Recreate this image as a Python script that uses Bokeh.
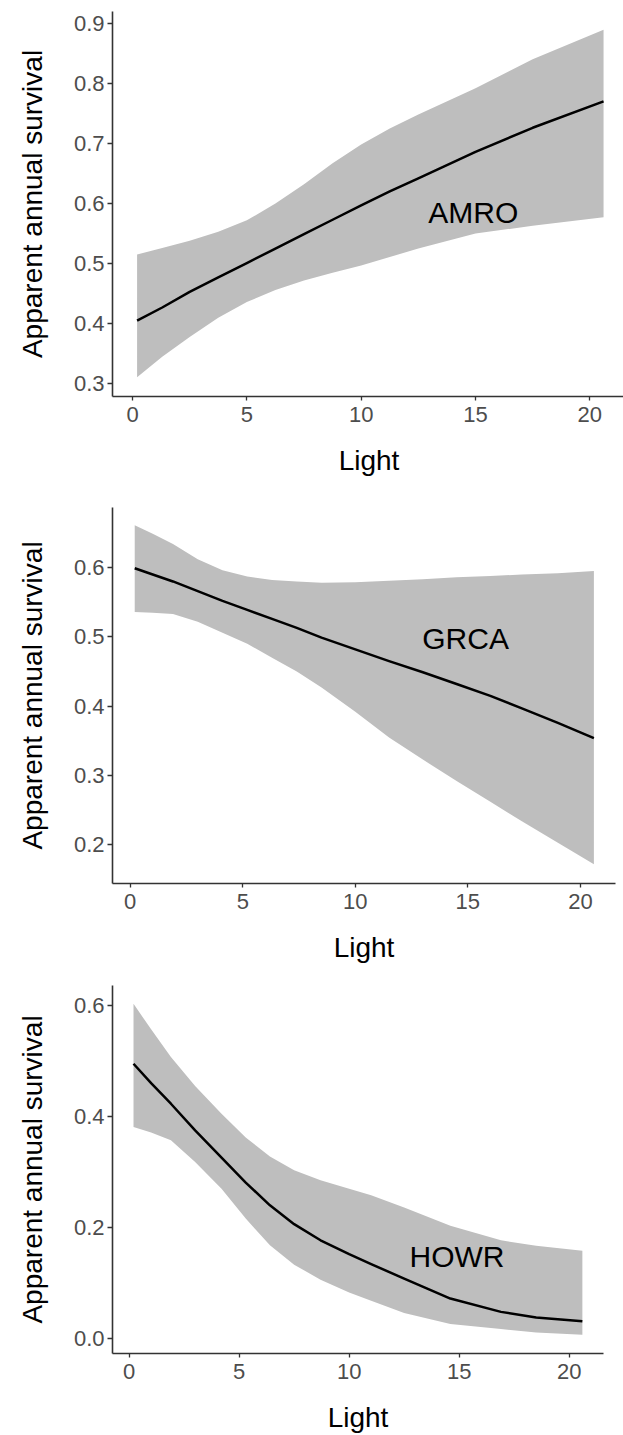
from bokeh.plotting import figure
from bokeh.layouts import column
from bokeh.models import FixedTicker, PrintfTickFormatter, Range1d
from bokeh.core.properties import value
from bokeh.embed import file_html
from bokeh.resources import INLINE

# ---------------- data ----------------
amro_x = [0.2, 1.3, 2.5, 3.75, 5.0, 6.25, 7.5, 8.75, 10.0, 11.25, 12.5, 15.0, 17.5, 20.6]
amro_mean = [0.405, 0.427, 0.453, 0.477, 0.501, 0.525, 0.549, 0.573, 0.597, 0.620, 0.642, 0.686, 0.726, 0.770]
amro_upper = [0.515, 0.526, 0.538, 0.553, 0.572, 0.600, 0.632, 0.667, 0.698, 0.725, 0.748, 0.792, 0.840, 0.889]
amro_lower = [0.311, 0.345, 0.378, 0.410, 0.436, 0.456, 0.472, 0.485, 0.497, 0.511, 0.525, 0.550, 0.563, 0.577]

grca_x = [0.2, 1.0, 1.9, 3.0, 4.1, 5.2, 6.3, 7.4, 8.5, 10.0, 11.5, 13.0, 14.5, 16.0, 17.4, 19.0, 20.6]
grca_mean = [0.599, 0.590, 0.580, 0.566, 0.552, 0.539, 0.526, 0.513, 0.499, 0.482, 0.465, 0.449, 0.432, 0.415, 0.397, 0.376, 0.354]
grca_upper = [0.661, 0.649, 0.634, 0.612, 0.596, 0.587, 0.582, 0.580, 0.578, 0.579, 0.581, 0.583, 0.586, 0.588, 0.590, 0.592, 0.595]
grca_lower = [0.536, 0.535, 0.533, 0.522, 0.506, 0.490, 0.470, 0.450, 0.427, 0.392, 0.355, 0.323, 0.292, 0.262, 0.234, 0.203, 0.172]

howr_x = [0.2, 1.0, 1.9, 3.0, 4.2, 5.3, 6.4, 7.5, 8.7, 10.0, 11.0, 12.5, 14.6, 16.9, 18.5, 20.6]
howr_mean = [0.495, 0.460, 0.423, 0.375, 0.326, 0.281, 0.240, 0.206, 0.177, 0.152, 0.134, 0.108, 0.072, 0.048, 0.038, 0.031]
howr_upper = [0.603, 0.557, 0.507, 0.455, 0.405, 0.362, 0.328, 0.303, 0.285, 0.270, 0.258, 0.236, 0.203, 0.177, 0.167, 0.158]
howr_lower = [0.381, 0.371, 0.357, 0.318, 0.270, 0.216, 0.168, 0.133, 0.106, 0.083, 0.068, 0.046, 0.026, 0.017, 0.011, 0.007]

species = ["AMRO", "GRCA", "HOWR"]
label_x = [14.9, 14.9, 14.9]
label_y = [0.585, 0.497, 0.148]

x_ticks = [0, 5, 10, 15, 20]
y_ticks_list = [
    [0.3, 0.4, 0.5, 0.6, 0.7, 0.8, 0.9],
    [0.2, 0.3, 0.4, 0.5, 0.6],
    [0.0, 0.2, 0.4, 0.6],
]

x_title = "Light"
y_title = "Apparent annual survival"

# ---------------- layout settings ----------------
FONT = "Liberation Sans"
panels = [
    dict(x=amro_x, m=amro_mean, u=amro_upper, l=amro_lower,
         xr=(-0.875, 21.56), yr=(0.2789, 0.9195),
         fw=513, fh=385, bl=104, br=6, bt=11, bb=92),
    dict(x=grca_x, m=grca_mean, u=grca_upper, l=grca_lower,
         xr=(-0.787, 21.56), yr=(0.1442, 0.6867),
         fw=503, fh=376, bl=110, br=10, bt=19, bb=85),
    dict(x=howr_x, m=howr_mean, u=howr_upper, l=howr_lower,
         xr=(-0.755, 21.56), yr=(-0.027, 0.636),
         fw=491, fh=368, bl=112, br=20, bt=17, bb=80),
]

figs = []
for i, pd_ in enumerate(panels):
    p = figure(frame_width=pd_["fw"], frame_height=pd_["fh"],
               x_range=Range1d(*pd_["xr"]), y_range=Range1d(*pd_["yr"]),
               output_backend="svg", toolbar_location=None,
               min_border_left=pd_["bl"], min_border_right=pd_["br"],
               min_border_top=pd_["bt"], min_border_bottom=pd_["bb"],
               background_fill_color="white", border_fill_color="white")
    p.outline_line_color = None
    p.grid.visible = False

    p.varea(x=pd_["x"], y1=pd_["l"], y2=pd_["u"], fill_color="#bebebe", fill_alpha=1.0)
    p.line(x=pd_["x"], y=pd_["m"], line_color="black", line_width=2.5,
           line_join="round")
    p.text(x=[label_x[i]], y=[label_y[i]], text=[species[i]],
           text_font=value(FONT), text_font_size="30px", text_color="black",
           text_align="center", text_baseline="middle")

    for ax in (p.xaxis[0], p.yaxis[0]):
        ax.axis_line_color = "#333333"
        ax.axis_line_width = 1.6
        ax.major_tick_line_color = "#333333"
        ax.major_tick_line_width = 1.3
        ax.minor_tick_line_color = None
        ax.major_label_text_font = FONT
        ax.major_label_text_font_size = "22px"
        ax.major_label_text_color = "#4d4d4d"
        ax.axis_label_text_font = FONT
        ax.axis_label_text_font_size = "28px"
        ax.axis_label_text_font_style = "normal"
        ax.axis_label_text_color = "black"

    p.xaxis[0].ticker = FixedTicker(ticks=x_ticks)
    p.xaxis[0].major_tick_in = 0
    p.xaxis[0].major_tick_out = 4
    p.xaxis[0].major_label_standoff = 6
    p.xaxis[0].axis_label = x_title
    p.xaxis[0].axis_label_standoff = 20

    p.yaxis[0].ticker = FixedTicker(ticks=y_ticks_list[i])
    p.yaxis[0].formatter = PrintfTickFormatter(format="%.1f")
    p.yaxis[0].major_tick_in = 0
    p.yaxis[0].major_tick_out = 5
    p.yaxis[0].major_label_standoff = 3
    p.yaxis[0].axis_label = y_title
    p.yaxis[0].axis_label_standoff = 23

    figs.append(p)

layout = column(*figs, spacing=0)
open("out.html", "w").write(file_html(layout, INLINE))
